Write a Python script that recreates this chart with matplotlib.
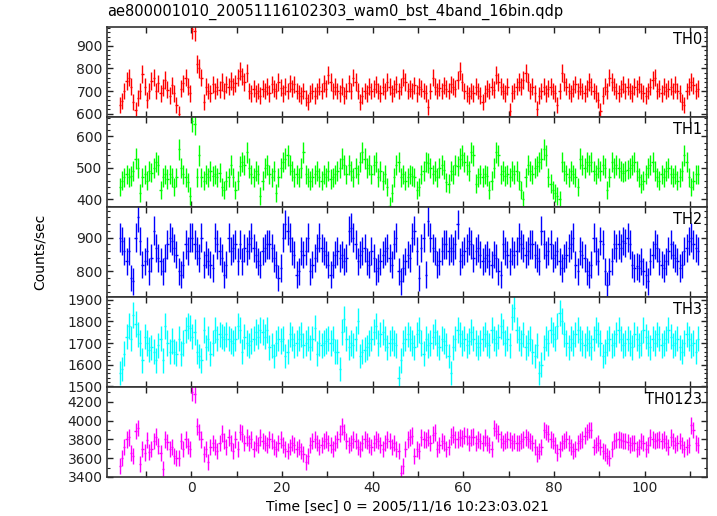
"""
WAM light curves (ae800001010, 16 bin, 4 bands) - qdp style replot
"""
import numpy as np
import matplotlib
matplotlib.use('Agg')
import matplotlib.pyplot as plt
from matplotlib.ticker import MultipleLocator, FuncFormatter

plt.rcParams['font.family'] = ['DejaVu Sans']

TITLE = 'ae800001010_20051116102303_wam0_bst_4band_16bin.qdp'
XLABEL = 'Time [sec] 0 = 2005/11/16 10:23:03.021'
YLABEL = 'Counts/sec'

T_START = -15.75   # centre of first bin
BIN = 0.5          # bin width (sec)

# counts/sec per 0.5 s bin (16 values = 8 s per row)
th0 = [
    640, 655, 700, 745, 760, 720, 650, 615, 670, 700, 775, 720, 660, 700, 745, 760,
    700, 735, 690, 715, 750, 705, 680, 725, 690, 640, 600, 710, 735, 760, 720, 690,
    975, 965, 820, 800, 760, 650, 720, 700, 690, 730, 700, 720, 705, 740, 700, 730,
    720, 745, 720, 735, 760, 790, 765, 740, 780, 700, 690, 710, 690, 700, 680, 710,
    700, 720, 690, 730, 710, 700, 740, 715, 690, 720, 700, 735, 710, 730, 700, 690,
    680, 700, 670, 650, 690, 700, 680, 700, 720, 700, 735, 710, 770, 740, 700, 720,
    700, 690, 720, 680, 700, 735, 700, 760, 740, 700, 650, 680, 700, 690, 720, 700,
    710, 730, 700, 690, 720, 700, 740, 720, 690, 710, 730, 700, 720, 760, 740, 700,
    710, 700, 725, 690, 720, 710, 700, 690, 630, 700, 760, 720, 700, 715, 700, 725,
    710, 700, 730, 720, 710, 750, 790, 740, 700, 690, 680, 700, 690, 720, 700, 680,
    650, 690, 710, 700, 720, 705, 770, 740, 720, 700, 690, 720, 610, 690, 700, 720,
    740, 720, 750, 780, 740, 700, 720, 690, 620, 680, 700, 720, 690, 710, 720, 700,
    690, 640, 700, 780, 740, 720, 700, 690, 710, 730, 700, 720, 700, 690, 710, 740,
    720, 700, 690, 660, 610, 680, 720, 700, 760, 740, 720, 700, 690, 710, 730, 700,
    720, 700, 690, 720, 710, 730, 700, 690, 680, 700, 720, 750, 760, 700, 710, 690,
    720, 700, 710, 720, 700, 730, 700, 690, 650, 640, 700, 720, 740, 725, 700, 710,
]

th1 = [
    440, 460, 470, 480, 470, 475, 490, 530, 500, 420, 470, 480, 460, 490, 485, 500,
    520, 510, 430, 470, 480, 465, 480, 470, 440, 470, 560, 500, 480, 470, 455, 410,
    650, 640, 470, 540, 470, 460, 480, 470, 490, 475, 480, 470, 485, 440, 430, 460,
    470, 510, 470, 430, 460, 505, 520, 510, 550, 500, 480, 470, 490, 480, 410, 460,
    500, 510, 480, 470, 490, 420, 470, 500, 520, 530, 540, 510, 490, 470, 480, 470,
    500, 550, 480, 470, 460, 470, 480, 490, 470, 460, 480, 470, 490, 465, 470, 480,
    490, 500, 530, 510, 480, 510, 490, 470, 500, 480, 520, 550, 530, 500, 510, 480,
    510, 520, 470, 490, 460, 480, 440, 380, 420, 470, 510, 520, 470, 480, 460, 470,
    480, 475, 470, 430, 440, 480, 490, 520, 515, 500, 480, 490, 470, 500, 510, 495,
    455, 450, 490, 480, 510, 505, 530, 540, 520, 510, 490, 550, 540, 450, 470, 480,
    470, 480, 475, 430, 460, 500, 550, 540, 480, 490, 475, 480, 470, 490, 480, 490,
    460, 430, 400, 470, 510, 490, 480, 500, 505, 520, 530, 560, 540, 470, 450, 430,
    420, 410, 400, 520, 490, 480, 470, 490, 480, 470, 440, 530, 510, 500, 520, 510,
    520, 490, 480, 500, 490, 510, 500, 430, 470, 520, 500, 510, 500, 490, 485, 490,
    495, 500, 510, 520, 490, 470, 450, 460, 480, 500, 510, 520, 490, 470, 460, 480,
    470, 490, 500, 480, 470, 480, 460, 470, 490, 540, 520, 470, 440, 460, 480, 480,
]

th2 = [
    900, 890, 860, 830, 860, 780, 770, 900, 960, 890, 820, 830, 860, 800, 840, 920,
    870, 840, 830, 800, 840, 880, 900, 890, 870, 850, 800, 790, 820, 880, 860, 900,
    900, 880, 860, 840, 900, 820, 850, 830, 820, 810, 900, 880, 860, 840, 790, 820,
    900, 860, 870, 880, 830, 880, 830, 870, 860, 880, 900, 870, 850, 830, 820, 860,
    870, 880, 880, 870, 840, 820, 780, 810, 900, 940, 920, 900, 860, 850, 790, 800,
    860, 850, 860, 900, 800, 820, 840, 870, 900, 870, 860, 850, 820, 790, 820, 850,
    860, 840, 850, 830, 840, 920, 930, 900, 880, 830, 850, 860, 870, 830, 820, 860,
    840, 800, 810, 830, 850, 860, 870, 840, 820, 880, 900, 800, 770, 810, 830, 850,
    840, 900, 920, 860, 780, 870, 900, 790, 950, 900, 870, 860, 820, 830, 860, 880,
    880, 860, 870, 860, 880, 940, 830, 850, 860, 870, 890, 880, 840, 860, 870, 850,
    830, 840, 850, 830, 820, 850, 840, 800, 790, 880, 860, 850, 830, 860, 850, 860,
    900, 880, 870, 850, 860, 880, 880, 850, 840, 830, 920, 880, 850, 860, 880, 840,
    850, 860, 830, 810, 840, 850, 870, 880, 900, 820, 800, 860, 850, 840, 800, 790,
    820, 900, 860, 830, 890, 880, 800, 760, 800, 830, 880, 870, 880, 870, 890, 885,
    900, 880, 820, 810, 815, 810, 830, 800, 790, 770, 830, 850, 880, 870, 830, 820,
    810, 830, 860, 880, 850, 840, 830, 810, 820, 860, 870, 890, 900, 880, 870, 860,
]

th3 = [
    1560, 1580, 1650, 1730, 1780, 1720, 1830, 1790, 1740, 1700, 1620, 1730, 1700, 1670, 1680, 1660,
    1620, 1690, 1720, 1620, 1780, 1700, 1660, 1710, 1660, 1650, 1720, 1650, 1700, 1760, 1780, 1770,
    1730, 1750, 1660, 1640, 1620, 1760, 1680, 1720, 1650, 1700, 1760, 1720, 1740, 1730, 1720, 1740,
    1720, 1710, 1700, 1720, 1780, 1760, 1660, 1730, 1700, 1690, 1710, 1720, 1750, 1730, 1760, 1750,
    1730, 1760, 1680, 1690, 1640, 1700, 1720, 1710, 1720, 1640, 1660, 1740, 1720, 1690, 1700, 1720,
    1740, 1690, 1700, 1720, 1680, 1720, 1770, 1650, 1700, 1690, 1700, 1710, 1720, 1700, 1720, 1660,
    1660, 1580, 1750, 1810, 1720, 1680, 1700, 1690, 1720, 1800, 1640, 1660, 1670, 1680, 1700, 1720,
    1750, 1780, 1700, 1740, 1750, 1720, 1680, 1700, 1720, 1700, 1690, 1540, 1620, 1700, 1720, 1740,
    1720, 1700, 1680, 1740, 1760, 1700, 1650, 1720, 1690, 1700, 1730, 1750, 1700, 1680, 1720, 1710,
    1690, 1640, 1560, 1680, 1720, 1760, 1740, 1700, 1720, 1690, 1710, 1750, 1720, 1700, 1680, 1700,
    1720, 1740, 1700, 1690, 1760, 1720, 1700, 1730, 1780, 1750, 1700, 1720, 1690, 1820, 1860, 1760,
    1720, 1700, 1740, 1680, 1700, 1720, 1660, 1640, 1690, 1560, 1600, 1680, 1720, 1700, 1760, 1740,
    1720, 1780, 1840, 1800, 1740, 1700, 1680, 1720, 1700, 1740, 1760, 1720, 1700, 1690, 1720, 1700,
    1680, 1720, 1760, 1740, 1700, 1640, 1660, 1700, 1720, 1690, 1700, 1740, 1760, 1720, 1690, 1700,
    1720, 1700, 1680, 1740, 1720, 1690, 1700, 1760, 1730, 1700, 1680, 1720, 1700, 1740, 1720, 1690,
    1700, 1720, 1760, 1730, 1690, 1700, 1720, 1680, 1660, 1700, 1740, 1720, 1690, 1700, 1660, 1720,
]

th0123 = [
    3520, 3600, 3720, 3800, 3820, 3650, 3620, 3890, 3920, 3540, 3700, 3660, 3790, 3670, 3700, 3780,
    3830, 3730, 3650, 3490, 3800, 3770, 3700, 3720, 3620, 3600, 3600, 3780, 3700, 3800, 3730, 3700,
    4300, 4280, 3940, 3880, 3800, 3640, 3700, 3560, 3720, 3760, 3720, 3680, 3760, 3860, 3780, 3720,
    3820, 3760, 3680, 3800, 3700, 3880, 3860, 3760, 3820, 3760, 3800, 3700, 3760, 3740, 3820, 3780,
    3760, 3740, 3800, 3780, 3720, 3700, 3760, 3800, 3740, 3700, 3680, 3720, 3760, 3740, 3700, 3720,
    3680, 3640, 3560, 3620, 3740, 3780, 3800, 3760, 3720, 3740, 3780, 3800, 3760, 3740, 3700, 3760,
    3800, 3860, 3940, 3880, 3780, 3740, 3760, 3800, 3780, 3720, 3700, 3760, 3800, 3780, 3740, 3720,
    3760, 3800, 3780, 3740, 3700, 3760, 3800, 3780, 3720, 3760, 3700, 3680, 3440, 3520, 3700, 3800,
    3820, 3840, 3620, 3700, 3680, 3820, 3800, 3790, 3820, 3760, 3850, 3870, 3700, 3740, 3780, 3760,
    3700, 3720, 3830, 3850, 3800, 3800, 3820, 3810, 3840, 3830, 3760, 3820, 3830, 3760, 3800, 3780,
    3760, 3820, 3760, 3740, 3700, 3920, 3890, 3860, 3800, 3760, 3780, 3800, 3790, 3760, 3780, 3760,
    3760, 3780, 3800, 3820, 3800, 3780, 3760, 3720, 3640, 3680, 3720, 3900, 3880, 3860, 3800, 3780,
    3740, 3660, 3700, 3760, 3780, 3800, 3760, 3720, 3680, 3700, 3760, 3780, 3800, 3840, 3880, 3900,
    3900, 3720, 3740, 3760, 3720, 3680, 3660, 3620, 3600, 3700, 3780, 3790, 3800, 3790, 3780, 3780,
    3770, 3740, 3760, 3760, 3700, 3720, 3780, 3760, 3700, 3740, 3820, 3800, 3780, 3790, 3800, 3780,
    3800, 3760, 3720, 3820, 3780, 3740, 3760, 3780, 3740, 3700, 3720, 3740, 3950, 3900, 3760, 3740,
]

names = ['TH0', 'TH1', 'TH2', 'TH3', 'TH0123']
series = [th0, th1, th2, th3, th0123]
colors = ['#ff0000', '#00ff00', '#0000ff', '#00ffff', '#ff00ff']
ylims = [(585, 984), (376, 662), (724, 991), (1497, 1913), (3400, 4356)]
ymajor = [100, 100, 100, 100, 200]
yminor = [20, 20, 20, 20, 100]

fig = plt.figure(figsize=(7.17, 5.16), dpi=100)
gs = fig.add_gridspec(5, 1, left=0.149, right=0.9857, bottom=0.0756,
                      top=0.9477, hspace=0)

for i, (name, vals, col) in enumerate(zip(names, series, colors)):
    ax = fig.add_subplot(gs[i])
    v = np.asarray(vals, dtype=float)
    t = T_START + BIN * np.arange(len(v))
    err = np.sqrt(v * BIN) / BIN   # poisson error
    ax.errorbar(t, v, xerr=BIN / 2, yerr=err, fmt='none', ecolor=col,
                elinewidth=1.0, capsize=0)

    ax.set_xlim(-18.6, 113.7)
    ax.set_ylim(*ylims[i])
    ax.xaxis.set_major_locator(MultipleLocator(10))
    ax.yaxis.set_major_locator(MultipleLocator(ymajor[i]))
    ax.yaxis.set_minor_locator(MultipleLocator(yminor[i]))
    ax.tick_params(which='both', direction='in', top=True, right=True,
                   labelsize=10, colors='#222222', pad=3)
    ax.tick_params(which='major', length=4, width=1.0)
    ax.tick_params(which='minor', length=2, width=0.8)
    for sp in ax.spines.values():
        sp.set_linewidth(1.2)
        sp.set_color('#333333')

    if i < 4:
        ax.tick_params(labelbottom=False)
    else:
        ax.xaxis.set_major_formatter(
            FuncFormatter(lambda x, p: f'{x:.0f}' if round(x) % 20 == 0 else ''))

    ax.text(0.992, 0.94, name, transform=ax.transAxes, ha='right', va='top',
            fontsize=10.5, color='black')

fig.text(0.149, 0.977, TITLE, ha='left', va='center', fontsize=10.5)
fig.text(0.056, 0.512, YLABEL, rotation=90, ha='center', va='center', fontsize=10)
fig.text(0.568, 0.017, XLABEL, ha='center', va='center', fontsize=10)

fig.savefig('out.png', dpi=100)
